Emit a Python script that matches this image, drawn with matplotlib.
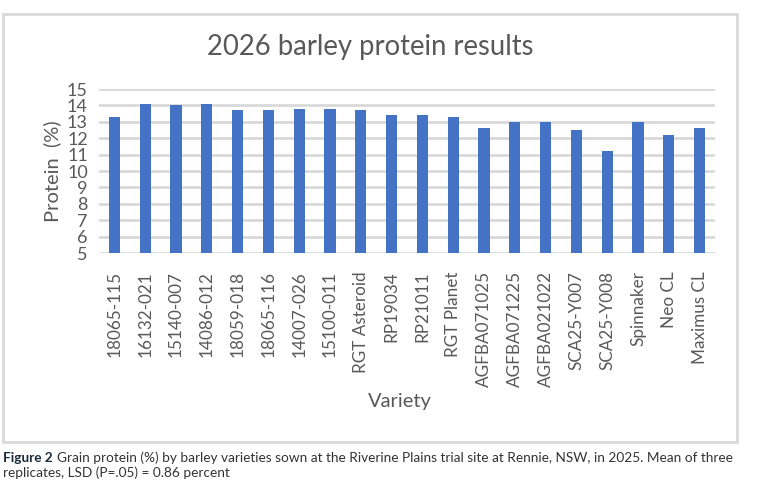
import matplotlib
matplotlib.use("Agg")
import matplotlib.pyplot as plt
from matplotlib.patches import Rectangle

varieties = ["18065-115", "16132-021", "15140-007", "14086-012", "18059-018",
             "18065-116", "14007-026", "15100-011", "RGT Asteroid", "RP19034",
             "RP21011", "RGT Planet", "AGFBA071025", "AGFBA071225", "AGFBA021022",
             "SCA25-Y007", "SCA25-Y008", "Spinnaker", "Neo CL", "Maximus CL"]
protein = [13.3, 14.1, 14.0, 14.1, 13.7, 13.7, 13.8, 13.8, 13.7, 13.4,
           13.4, 13.3, 12.6, 13.0, 13.0, 12.5, 11.2, 13.0, 12.2, 12.6]
yticks = list(range(5, 16))

W, H = 761, 487
fig = plt.figure(figsize=(W / 100, H / 100), dpi=100)
fig.patch.set_facecolor("white")

font = "Lato"
txt = "#595959"

# outer chart frame
fig.add_artist(Rectangle((3 / W, 1 - 442 / H), (737 - 3) / W, (442 - 14) / H,
                         transform=fig.transFigure, fill=False,
                         edgecolor="#d9d9d9", linewidth=2))

ax = fig.add_axes([99 / W, 1 - 253 / H, (715 - 99) / W, (253 - 89) / H])
x = range(len(varieties))
ax.bar(x, protein, width=0.36, color="#4472c4", zorder=3)
ax.set_ylim(5, 15)
ax.set_xlim(-0.5, len(varieties) - 0.5)
ax.set_yticks(yticks)
ax.set_yticklabels([str(t) for t in yticks], fontsize=13, color=txt, family=font)
ax.set_xticks(list(x))
ax.set_xticklabels(varieties, rotation=90, fontsize=12.3, color=txt, family=font)
ax.tick_params(axis="x", length=0, pad=13)
ax.tick_params(axis="y", length=0, pad=8)
ax.grid(axis="y", color="#d9d9d9", linewidth=2, zorder=0)
for s in ax.spines.values():
    s.set_visible(False)

ax.set_ylabel("Protein  (%)", fontsize=14.5, color=txt, family=font, labelpad=4)
fig.text(400 / W, 1 - 402 / H, "Variety", ha="center", va="center",
         fontsize=14.5, color=txt, family=font)
fig.text(370 / W, 1 - 47 / H, "2026 barley protein results", ha="center",
         va="center", fontsize=19.8, color=txt, family=font)

cap = "#333333"
fig.text(3 / W, 1 - 458 / H, "Figure 2", ha="left", va="center",
         fontsize=9.8, color="#1a2a3a", family=font, weight="bold")
fig.text(57 / W, 1 - 458 / H,
         "Grain protein (%) by barley varieties sown at the Riverine Plains trial site at Rennie, NSW, in 2025. Mean of three",
         ha="left", va="center", fontsize=9.8, color=cap, family=font)
fig.text(3 / W, 1 - 473 / H, "replicates, LSD (P=.05) = 0.86 percent",
         ha="left", va="center", fontsize=9.8, color=cap, family=font)

fig.savefig("out.png", dpi=100)
